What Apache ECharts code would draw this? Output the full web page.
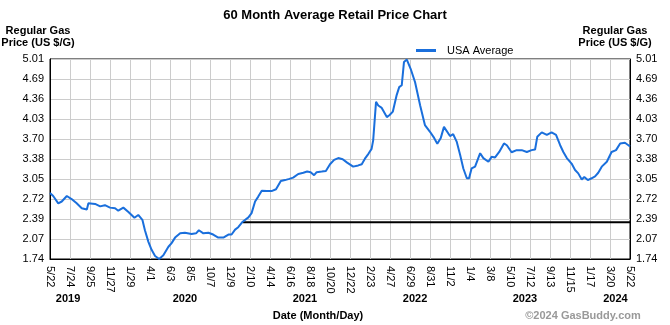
<!DOCTYPE html>
<html>
<head>
<meta charset="utf-8">
<script src="https://cdn.jsdelivr.net/npm/echarts@6/dist/echarts.min.js"></script>
<style>
html,body{margin:0;padding:0;background:#fff;}
#c{width:670px;height:325px;}
</style>
</head>
<body>
<div id="c"></div>
<script>
// ---- data ----
var startDate = '2019-05-22';
var endDate = '2024-05-22';
var xTickLabels = ['5/22','7/24','9/25','11/27','1/29','4/1','6/3','8/5','10/7','12/9','2/10','4/14','6/16','8/18','10/20','12/22','2/23','4/27','6/29','8/31','11/2','1/4','3/8','5/10','7/12','9/13','11/15','1/17','3/20','5/22'];
var yTickLabels = ['1.74','2.07','2.39','2.72','3.05','3.38','3.70','4.03','4.36','4.69','5.01'];
var yearLabels = ['2019','2020','2021','2022','2023','2024'];
var yearLabelDates = ['2019-07-18','2020-07-20','2021-08-02','2022-07-15','2023-06-26','2024-04-06'];
var usaDates = ['2019-05-22','2019-06-01','2019-06-17','2019-06-28','2019-07-14','2019-07-29','2019-08-14','2019-08-30','2019-09-15','2019-09-20','2019-10-11','2019-10-27','2019-11-11','2019-11-27','2019-12-13','2019-12-23','2020-01-08','2020-01-24','2020-02-12','2020-02-24','2020-03-08','2020-03-16','2020-03-27','2020-04-06','2020-04-17','2020-04-30','2020-05-13','2020-05-29','2020-06-08','2020-06-19','2020-07-05','2020-07-20','2020-08-10','2020-08-24','2020-09-02','2020-09-16','2020-10-02','2020-10-17','2020-11-02','2020-11-18','2020-12-04','2020-12-14','2020-12-25','2021-01-04','2021-01-18','2021-02-05','2021-02-15','2021-02-26','2021-03-08','2021-03-19','2021-04-04','2021-04-19','2021-05-03','2021-05-18','2021-05-31','2021-06-14','2021-06-26','2021-07-12','2021-07-28','2021-08-09','2021-08-20','2021-08-31','2021-09-08','2021-09-24','2021-10-07','2021-10-20','2021-11-02','2021-11-15','2021-11-29','2021-12-13','2022-01-01','2022-01-17','2022-01-28','2022-02-07','2022-02-18','2022-02-28','2022-03-05','2022-03-14','2022-03-21','2022-04-01','2022-04-17','2022-04-25','2022-05-06','2022-05-18','2022-05-26','2022-06-03','2022-06-10','2022-06-19','2022-07-01','2022-07-15','2022-07-31','2022-08-15','2022-08-31','2022-09-13','2022-09-23','2022-10-04','2022-10-14','2022-11-02','2022-11-12','2022-11-23','2022-12-04','2022-12-14','2022-12-25','2023-01-01','2023-01-09','2023-01-20','2023-02-05','2023-02-15','2023-03-03','2023-03-13','2023-03-24','2023-04-06','2023-04-21','2023-04-30','2023-05-15','2023-05-31','2023-06-16','2023-07-02','2023-07-17','2023-07-28','2023-08-04','2023-08-18','2023-09-03','2023-09-18','2023-10-02','2023-10-15','2023-10-25','2023-11-05','2023-11-20','2023-12-01','2023-12-11','2023-12-22','2023-12-30','2024-01-10','2024-01-22','2024-02-02','2024-02-12','2024-02-23','2024-03-10','2024-03-25','2024-04-08','2024-04-21','2024-05-06','2024-05-17','2024-05-22'];
var usaPrices = [2.82,2.77,2.65,2.68,2.77,2.72,2.65,2.57,2.55,2.65,2.64,2.60,2.62,2.58,2.57,2.53,2.58,2.51,2.415,2.46,2.38,2.21,2.02,1.89,1.79,1.74,1.80,1.94,2.00,2.09,2.16,2.17,2.15,2.16,2.21,2.16,2.17,2.14,2.09,2.09,2.14,2.14,2.22,2.26,2.35,2.42,2.49,2.68,2.76,2.857,2.85,2.85,2.88,3.015,3.03,3.05,3.07,3.13,3.15,3.17,3.16,3.11,3.16,3.17,3.18,3.29,3.36,3.39,3.37,3.315,3.25,3.27,3.29,3.38,3.46,3.54,3.68,4.31,4.25,4.21,4.06,4.09,4.15,4.42,4.55,4.58,4.96,5.00,4.85,4.63,4.25,3.93,3.82,3.72,3.625,3.72,3.90,3.75,3.78,3.66,3.44,3.22,3.06,3.06,3.22,3.25,3.47,3.39,3.33,3.41,3.40,3.49,3.63,3.60,3.485,3.52,3.52,3.49,3.52,3.53,3.74,3.81,3.77,3.81,3.77,3.60,3.49,3.39,3.30,3.195,3.14,3.04,3.08,3.03,3.06,3.09,3.15,3.25,3.33,3.49,3.52,3.63,3.64,3.60,3.58];
var refLineDates = ['2021-01-18','2024-05-22'];
var refLinePrices = [2.34,2.34];

// ---- helpers ----
function dayOf(s){
  var p = s.split('-');
  var a = Date.UTC(+p[0], +p[1]-1, +p[2]);
  var q = startDate.split('-');
  var b = Date.UTC(+q[0], +q[1]-1, +q[2]);
  return Math.round((a-b)/86400000);
}
var totalDays = dayOf(endDate);
var tickStep = totalDays / (xTickLabels.length - 1);
var yMin = +yTickLabels[0], yMax = +yTickLabels[yTickLabels.length-1];
var yStep = (yMax - yMin) / (yTickLabels.length - 1);

var usaData = usaDates.map(function(d,i){ return [dayOf(d), usaPrices[i]]; });
var refData = refLineDates.map(function(d,i){ return [dayOf(d), refLinePrices[i]]; });

var chart = echarts.init(document.getElementById('c'), null, {renderer:'canvas'});
var FONT = 'Liberation Sans, Arial, sans-serif';
var yLabelFmt = function(v){ return yTickLabels[Math.round((v - yMin)/yStep)] || ''; };

var option = {
  animation: false,
  backgroundColor: '#fff',
  textStyle: {fontFamily: FONT},
  title: {
    text: '60 Month Average Retail Price Chart',
    left: 'center', top: 4,
    textStyle: {fontFamily: FONT, fontSize: 13, fontWeight: 'bold', color: '#000'}
  },
  legend: {
    data: ['USA Average'],
    left: 411, top: 40,
    icon: 'rect', itemWidth: 20, itemHeight: 3,
    textStyle: {fontFamily: FONT, fontSize: 11, color: '#000', padding: [0,0,0,6]}
  },
  grid: {
    left: 50, right: 40, top: 59, bottom: 66,
    show: true, borderColor: '#000', borderWidth: 1
  },
  xAxis: {
    type: 'value', min: 0, max: totalDays, interval: tickStep,
    axisLine: {show: true, lineStyle: {color: '#000', width: 1}},
    axisTick: {show: false},
    splitLine: {show: true, lineStyle: {color: '#cccccc', width: 1}},
    axisLabel: {
      rotate: -90, margin: 7, fontSize: 11, color: '#000', fontFamily: FONT,
      formatter: function(v){ return xTickLabels[Math.round(v / tickStep)] || ''; }
    }
  },
  yAxis: [{
    type: 'value', min: yMin, max: yMax, interval: yStep, position: 'left',
    axisLine: {show: true, lineStyle: {color: '#000'}},
    axisTick: {show: false},
    splitLine: {show: true, lineStyle: {color: '#cccccc', width: 1}},
    axisLabel: {margin: 6, fontSize: 11, color: '#000', fontFamily: FONT, formatter: yLabelFmt}
  },{
    type: 'value', min: yMin, max: yMax, interval: yStep, position: 'right',
    axisLine: {show: true, lineStyle: {color: '#000'}},
    axisTick: {show: false},
    splitLine: {show: false},
    axisLabel: {margin: 6, fontSize: 11, color: '#000', fontFamily: FONT, formatter: yLabelFmt}
  }],
  series: [{
    name: 'USA Average', type: 'line', data: usaData,
    showSymbol: false, symbol: 'none',
    lineStyle: {color: '#1a6fdc', width: 2}, itemStyle: {color: '#1a6fdc'},
    z: 3
  },{
    name: 'ref', type: 'line', data: refData,
    showSymbol: false, symbol: 'none',
    lineStyle: {color: '#000', width: 2}, itemStyle: {color: '#000'},
    z: 2
  }],
  graphic: []
};
chart.setOption(option);

var g = [];
var nameStyle = {fontFamily: FONT, fontSize: 11, fontWeight: 'bold', fill: '#000', textAlign: 'center', lineHeight: 12};
g.push({type:'text', x: 38, y: 25, style: Object.assign({text:'Regular Gas\nPrice (US $/G)'}, nameStyle)});
g.push({type:'text', x: 615, y: 25, style: Object.assign({text:'Regular Gas\nPrice (US $/G)'}, nameStyle)});
yearLabels.forEach(function(t,i){
  var px = chart.convertToPixel({xAxisIndex:0}, dayOf(yearLabelDates[i]));
  g.push({type:'text', x: px, y: 293, style: {text: t, fontFamily: FONT, fontSize: 11, fontWeight: 'bold', fill: '#000', textAlign: 'center'}});
});
g.push({type:'text', x: 318, y: 310, style: {text:'Date (Month/Day)', fontFamily: FONT, fontSize: 11, fontWeight: 'bold', fill: '#000', textAlign: 'center'}});
g.push({type:'text', x: 583, y: 310, style: {text:'\u00A92024 GasBuddy.com', fontFamily: FONT, fontSize: 11, fontWeight: 'bold', fill: '#999999', textAlign: 'center'}});
chart.setOption({graphic: g});
</script>
</body>
</html>
